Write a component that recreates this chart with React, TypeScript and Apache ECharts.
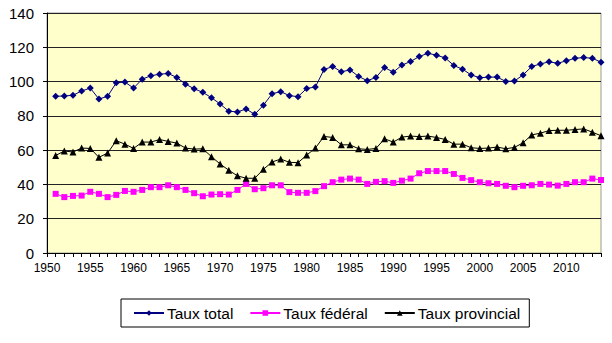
import React, { useEffect, useRef } from "react";
import * as echarts from "echarts";

const FIRST_YEAR = 1950;
const LAST_YEAR = 2014;
const years: string[] = [];
for (let y = FIRST_YEAR; y <= LAST_YEAR; y++) years.push(String(y));

// values for 1951..2014 (1950 has no data)
const tauxTotal = [
  91.4, 91.6, 92.0, 94.5, 96.2, 89.8, 91.4, 99.3, 99.7, 96.2,
  101.4, 103.4, 104.3, 104.7, 102.4, 98.5, 95.8, 93.7, 90.6, 86.9,
  82.7, 82.3, 84.0, 80.9, 86.2, 92.9, 94.1, 91.8, 91.2, 96.0,
  96.8, 107.0, 108.8, 105.7, 106.8, 103.0, 100.5, 102.4, 108.2, 105.5,
  109.6, 111.7, 114.6, 116.5, 115.4, 113.8, 109.4, 107.2, 103.9, 102.2,
  102.6, 102.6, 100.1, 100.3, 103.9, 108.8, 110.3, 111.5, 110.7, 112.1,
  113.6, 114.0, 113.6, 111.3,
];
const tauxFederal = [
  34.5, 32.6, 33.3, 33.5, 35.7, 34.5, 32.6, 33.9, 36.2, 35.7,
  36.8, 38.4, 38.4, 39.5, 38.4, 36.8, 34.9, 33.1, 34.1, 34.3,
  34.1, 36.8, 40.3, 37.2, 37.8, 39.5, 39.5, 35.5, 35.1, 35.1,
  36.1, 39.0, 41.3, 42.8, 43.4, 42.8, 40.3, 41.5, 41.9, 40.9,
  42.2, 43.4, 46.5, 47.8, 47.8, 47.8, 46.1, 43.8, 42.5, 41.3,
  40.7, 40.3, 39.2, 38.4, 39.2, 39.5, 40.3, 39.9, 39.3, 40.3,
  41.3, 41.3, 43.4, 42.6,
];
const tauxProvincial = [
  56.9, 59.5, 58.9, 61.2, 61.0, 55.8, 58.3, 65.5, 63.5, 61.0,
  64.7, 64.7, 66.2, 65.1, 64.1, 61.2, 60.6, 60.8, 56.2, 51.9,
  48.3, 45.0, 43.6, 43.6, 48.8, 53.1, 54.8, 52.9, 52.7, 57.1,
  61.2, 68.0, 67.4, 63.1, 63.1, 60.8, 60.4, 61.0, 66.6, 64.7,
  67.6, 68.2, 67.9, 68.2, 67.4, 66.2, 63.5, 63.5, 61.4, 61.0,
  61.2, 61.8, 60.8, 61.6, 64.3, 68.9, 69.9, 71.4, 71.6, 71.6,
  72.0, 72.4, 70.5, 68.4,
];
const seriesNames = ["Taux total", "Taux fédéral", "Taux provincial"];

const FONT = "'Liberation Sans', Arial, sans-serif";

export default function App() {
  const ref = useRef<HTMLDivElement>(null);
  useEffect(() => {
    if (!ref.current) return;
    const chart = echarts.init(ref.current, null, { renderer: "svg" });
    const pad = (arr: number[]) => [null as any, ...arr];
    chart.setOption({
      animation: false,
      backgroundColor: "#fff",
      textStyle: { fontFamily: FONT },
      grid: {
        left: 47,
        right: 11,
        top: 13,
        bottom: 90,
        show: true,
        backgroundColor: "#FFFFCC",
        borderColor: "#9a9a9a",
        borderWidth: 1,
      },
      legend: {
        data: seriesNames,
        left: 121,
        top: 299,
        orient: "horizontal",
        borderColor: "#000",
        borderWidth: 1,
        padding: [6, 9, 6, 12],
        itemGap: 16,
        itemWidth: 30,
        itemHeight: 7,
        textStyle: { fontSize: 15.5, fontFamily: FONT, color: "#000", padding: [0, 0, 0, -2] },
      },
      xAxis: {
        type: "category",
        data: years,
        boundaryGap: false,
        axisLine: { lineStyle: { color: "#000", width: 1 } },
        axisTick: { show: true, interval: 0, length: 4, lineStyle: { color: "#000" } },
        axisLabel: { interval: 4, fontSize: 12, color: "#000", margin: 9, fontFamily: FONT },
        splitLine: { show: false },
      },
      yAxis: {
        type: "value",
        min: 0,
        max: 140,
        interval: 20,
        axisLine: { show: true, lineStyle: { color: "#000", width: 1 } },
        axisTick: { show: true, length: 4, lineStyle: { color: "#000" } },
        axisLabel: { fontSize: 15, color: "#000", margin: 13, fontFamily: FONT },
        splitLine: { show: true, lineStyle: { color: "#222", width: 1 } },
      },
      series: [
        {
          name: seriesNames[0],
          type: "line",
          data: pad(tauxTotal),
          symbol: "diamond",
          symbolSize: 7,
          showAllSymbol: true,
          color: "#000080",
          lineStyle: { color: "#000080", width: 1 },
          itemStyle: { color: "#000080" },
        },
        {
          name: seriesNames[1],
          type: "line",
          data: pad(tauxFederal),
          symbol: "rect",
          symbolSize: 6,
          showAllSymbol: true,
          color: "#FF00FF",
          lineStyle: { color: "#FF00FF", width: 1 },
          itemStyle: { color: "#FF00FF" },
        },
        {
          name: seriesNames[2],
          type: "line",
          data: pad(tauxProvincial),
          symbol: "triangle",
          symbolSize: 7,
          showAllSymbol: true,
          color: "#000000",
          lineStyle: { color: "#000000", width: 1 },
          itemStyle: { color: "#000000" },
        },
      ],
    });
    return () => chart.dispose();
  }, []);
  return (
    <div
      ref={ref}
      style={{ position: "fixed", left: 0, top: 0, width: 612, height: 343 }}
    />
  );
}
